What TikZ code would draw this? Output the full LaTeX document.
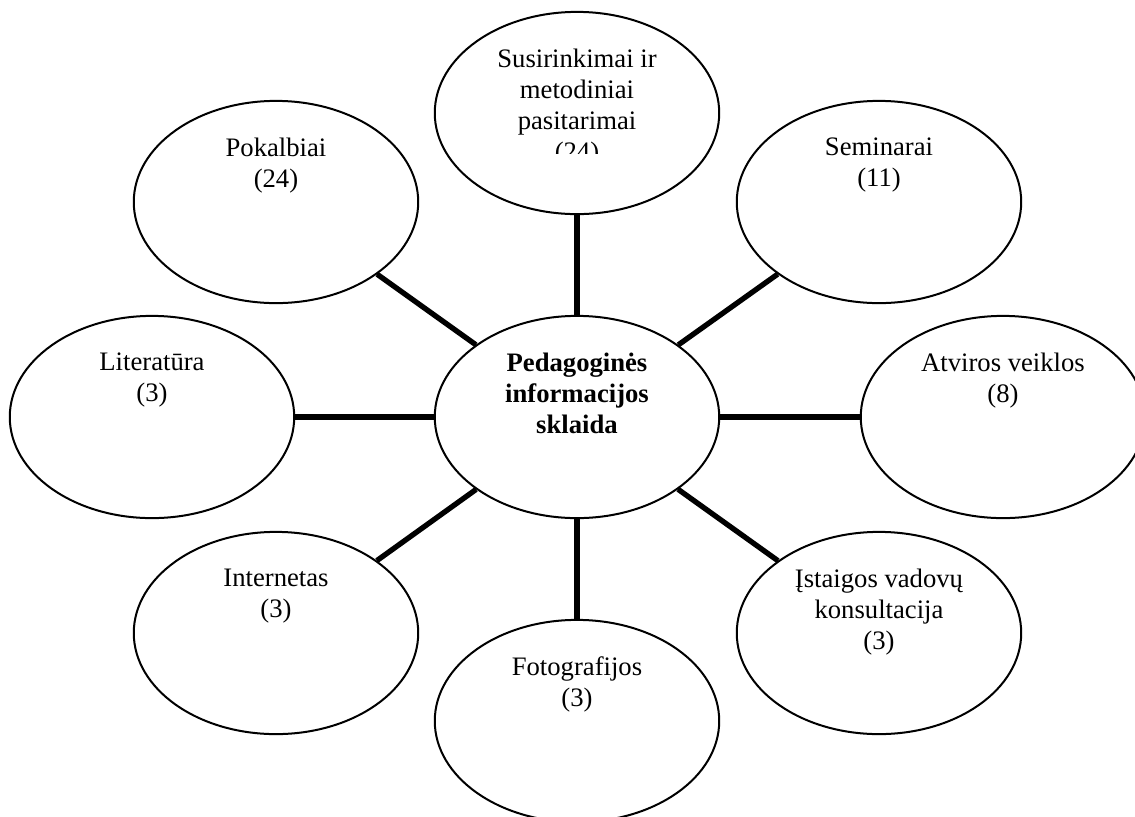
\documentclass[tikz,border=0pt]{standalone}
\usepackage{fontspec}
\setmainfont{Liberation Serif}
\usetikzlibrary{shapes.geometric,positioning}

\begin{document}
\begin{tikzpicture}[x=0.45pt,y=0.45pt,
    bubble/.style={draw,ellipse,line width=0.9pt,minimum width=128pt,minimum height=91pt},
    caption/.style={align=center,inner sep=0pt,font=\fontsize{12}{13.95}\selectfont},
    link/.style={line width=2.4pt}]
\useasboundingbox (-577,-399) rectangle (558,417);
    % Ellipses
    \node[bubble] (mid) at (0,0) {};
    \node[bubble] (meto) at (0,304) {};
    \node[bubble] (pokalb) at (-301,215) {};
    \node[bubble] (semin) at (302,215) {};
    \node[bubble] (lit) at (-425,0) {};
    \node[bubble] (atv) at (426,0) {};
    \node[bubble] (inter) at (-301,-216) {};
    \node[bubble] (istaig) at (302,-216) {};
    \node[bubble] (foto) at (0,-304) {};

    % Spokes
    \foreach \n in {meto,pokalb,semin,lit,atv,inter,istaig,foto}
        \draw[link] (mid) -- (\n);

    % Texts
    \node[caption,font=\fontsize{12}{13.95}\selectfont\bfseries,below=17pt of mid.north] (mid-t)
        {Pedagoginės\\informacijos\\sklaida};
    \begin{scope}
        \clip (-150,264) rectangle (150,417);
        \node[caption,below=17pt of meto.north] (meto-t)
            {Susirinkimai ir\\metodiniai\\pasitarimai\\(24)};
    \end{scope}
    \node[caption,below=17pt of pokalb.north] (pokalb-t) {Pokalbiai\\(24)};
    \node[caption,below=17pt of semin.north] (semin-t) {Seminarai\\(11)};
    \node[caption,below=17pt of lit.north] (lit-t) {Literatūra\\(3)};
    \node[caption,below=17pt of atv.north] (atv-t) {Atviros veiklos\\(8)};
    \node[caption,below=17pt of inter.north] (inter-t) {Internetas\\(3)};
    \node[caption,below=17pt of istaig.north] (istaig-t) {Įstaigos vadovų\\konsultacija\\(3)};
    \node[caption,below=17pt of foto.north] (foto-t) {Fotografijos\\(3)};
\end{tikzpicture}
\end{document}
